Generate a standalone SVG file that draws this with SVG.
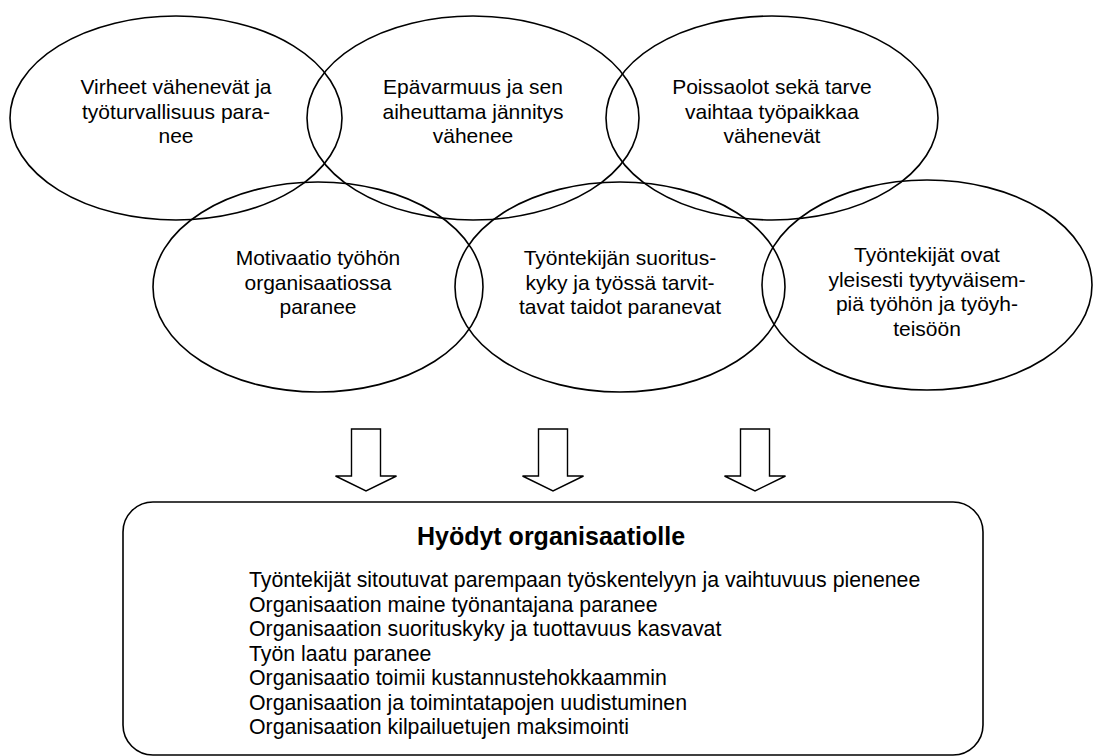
<svg xmlns="http://www.w3.org/2000/svg" width="1094" height="756" viewBox="0 0 1094 756">
  <style>
    .bubble { fill: none; stroke: #000; stroke-width: 1.6; }
    .label { font-family: "Liberation Sans", Arial, sans-serif; font-size: 21px; fill: #000; text-anchor: middle; }
    .arrow { fill: #fff; stroke: #000; stroke-width: 1.4; stroke-linejoin: miter; }
    .panel { fill: #fff; stroke: #000; stroke-width: 1.6; }
    .title { font-family: "Liberation Sans", Arial, sans-serif; font-size: 25px; font-weight: bold; fill: #000; text-anchor: middle; }
    .item { font-family: "Liberation Sans", Arial, sans-serif; font-size: 21.3px; fill: #000; }
  </style>
  <defs>
    <!-- hollow block arrow pointing down, origin at shaft top centre -->
    <path id="down-arrow" class="arrow" d="M -14.5 0 L 14.5 0 L 14.5 47 L 30.5 47 L 0 62 L -30.5 47 L -14.5 47 Z"/>
  </defs>

  <rect width="1094" height="756" fill="#fff"/>

  <!-- top row -->
  <g id="virheet">
    <ellipse class="bubble" cx="176" cy="118" rx="166" ry="102"/>
    <text class="label" x="176" y="94">Virheet vähenevät ja</text>
    <text class="label" x="176" y="118.5">työturvallisuus para-</text>
    <text class="label" x="176" y="143">nee</text>
  </g>
  <g id="epavarmuus">
    <ellipse class="bubble" cx="473" cy="118" rx="166" ry="102"/>
    <text class="label" x="473" y="94">Epävarmuus ja sen</text>
    <text class="label" x="473" y="118.5">aiheuttama jännitys</text>
    <text class="label" x="473" y="143">vähenee</text>
  </g>
  <g id="poissaolot">
    <ellipse class="bubble" cx="772" cy="118" rx="166" ry="102"/>
    <text class="label" x="772" y="94">Poissaolot sekä tarve</text>
    <text class="label" x="772" y="118.5">vaihtaa työpaikkaa</text>
    <text class="label" x="772" y="143">vähenevät</text>
  </g>

  <!-- bottom row -->
  <g id="motivaatio">
    <ellipse class="bubble" cx="318" cy="287" rx="165" ry="105"/>
    <text class="label" x="318" y="265">Motivaatio työhön</text>
    <text class="label" x="318" y="289.5">organisaatiossa</text>
    <text class="label" x="318" y="314">paranee</text>
  </g>
  <g id="suorituskyky">
    <ellipse class="bubble" cx="620" cy="287" rx="165" ry="105"/>
    <text class="label" x="620" y="265">Työntekijän suoritus-</text>
    <text class="label" x="620" y="289.5">kyky ja työssä tarvit-</text>
    <text class="label" x="620" y="314">tavat taidot paranevat</text>
  </g>
  <g id="tyytyvaisyys">
    <ellipse class="bubble" cx="927" cy="285" rx="165" ry="105"/>
    <text class="label" x="927" y="262">Työntekijät ovat</text>
    <text class="label" x="927" y="286.5">yleisesti tyytyväisem-</text>
    <text class="label" x="927" y="311">piä työhön ja työyh-</text>
    <text class="label" x="927" y="335.5">teisöön</text>
  </g>

  <!-- arrows into the benefits panel -->
  <g id="connectors">
    <use href="#down-arrow" x="366" y="429"/>
    <use href="#down-arrow" x="553" y="429"/>
    <use href="#down-arrow" x="755" y="429"/>
  </g>

  <!-- benefits panel -->
  <g id="hyodyt">
    <rect class="panel" x="123" y="502" width="860" height="253" rx="30" ry="30"/>
    <text class="title" x="551" y="545">Hyödyt organisaatiolle</text>
    <text class="item" x="249" y="587">Työntekijät sitoutuvat parempaan työskentelyyn ja vaihtuvuus pienenee</text>
    <text class="item" x="249" y="611.5">Organisaation maine työnantajana paranee</text>
    <text class="item" x="249" y="636">Organisaation suorituskyky ja tuottavuus kasvavat</text>
    <text class="item" x="249" y="660.5">Työn laatu paranee</text>
    <text class="item" x="249" y="685">Organisaatio toimii kustannustehokkaammin</text>
    <text class="item" x="249" y="709.5">Organisaation ja toimintatapojen uudistuminen</text>
    <text class="item" x="249" y="734">Organisaation kilpailuetujen maksimointi</text>
  </g>
</svg>
